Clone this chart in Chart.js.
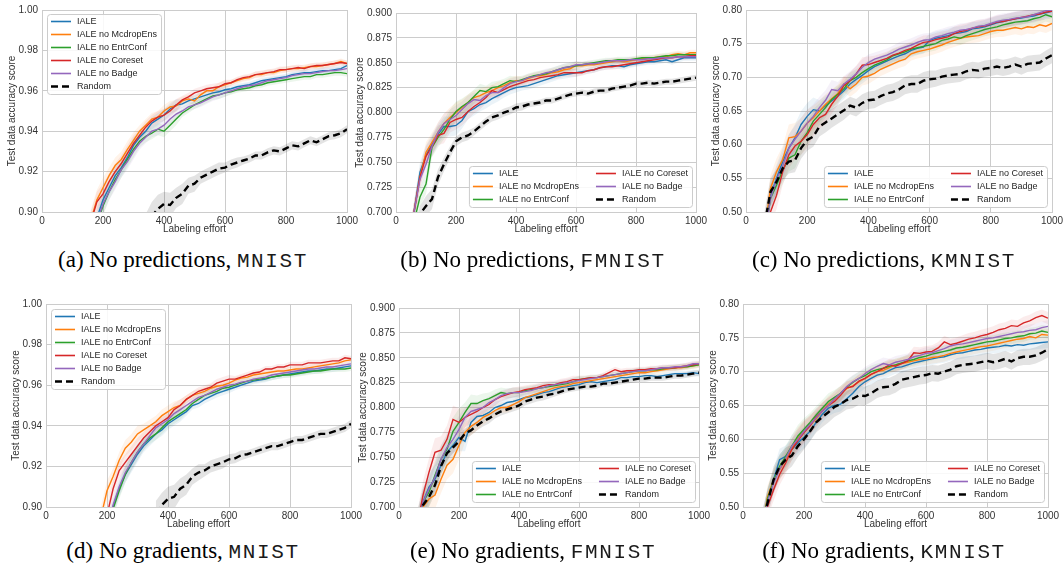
<!DOCTYPE html>
<html>
<head>
<meta charset="utf-8">
<script src="https://cdn.jsdelivr.net/npm/chart.js@4.4.1/dist/chart.umd.min.js"></script>
<style>
html, body { margin: 0; padding: 0; background: #fff; }
body { width: 1063px; height: 568px; position: relative; overflow: hidden; }
.panel { position: absolute; }
.caption {
    position: absolute; white-space: nowrap; transform: translateX(-50%);
    font-family: 'Liberation Serif', 'Times New Roman', serif; font-size: 23px; line-height: 23px; color: #000;
}
.caption .ds { font-family: 'Liberation Mono', 'Courier New', monospace; font-size: 21px; letter-spacing: 1.6px; color: #1a1a1a; }
</style>
</head>
<body>
<div class="panel" id="pa"><canvas></canvas></div>
<div class="panel" id="pb"><canvas></canvas></div>
<div class="panel" id="pc"><canvas></canvas></div>
<div class="panel" id="pd"><canvas></canvas></div>
<div class="panel" id="pe"><canvas></canvas></div>
<div class="panel" id="pf"><canvas></canvas></div>

<div class="caption" style="left:183px;top:248px">(a) No predictions, <span class="ds">MNIST</span></div>
<div class="caption" style="left:533px;top:248px">(b) No predictions, <span class="ds">FMNIST</span></div>
<div class="caption" style="left:884px;top:248px">(c) No predictions, <span class="ds">KMNIST</span></div>
<div class="caption" style="left:183px;top:539px">(d) No gradients, <span class="ds">MNIST</span></div>
<div class="caption" style="left:533px;top:539px">(e) No gradients, <span class="ds">FMNIST</span></div>
<div class="caption" style="left:884px;top:539px">(f) No gradients, <span class="ds">KMNIST</span></div>

<script>
// Ablation curves: test accuracy vs labeling effort
const effort = [20, 40, 60, 80, 100, 120, 140, 160, 180, 200,
    220, 240, 260, 280, 300, 320, 340, 360, 380, 400,
    420, 440, 460, 480, 500, 520, 540, 560, 580, 600,
    620, 640, 660, 680, 700, 720, 740, 760, 780, 800,
    820, 840, 860, 880, 900, 920, 940, 960, 980, 1000];
const xTicks = [0, 200, 400, 600, 800, 1000];

// (a) No predictions, MNIST
const aYTicks = [0.90, 0.92, 0.94, 0.96, 0.98, 1.00];
const aIALE = [null, null, null, null, null, null, null, null, 0.897, 0.906,
    0.912, 0.918, 0.922, 0.927, 0.933, 0.937, 0.940, 0.944, 0.946, 0.948,
    0.951, 0.953, 0.9535, 0.955, 0.956, 0.957, 0.958, 0.959, 0.9595, 0.9605,
    0.961, 0.962, 0.9625, 0.963, 0.964, 0.965, 0.9655, 0.966, 0.9665, 0.967,
    0.968, 0.9685, 0.969, 0.969, 0.9695, 0.970, 0.970, 0.9705, 0.971, 0.9725];
const aNoMcdrop = [null, null, null, null, null, null, 0.880, 0.896, 0.906, 0.912,
    0.918, 0.923, 0.926, 0.931, 0.9355, 0.940, 0.943, 0.946, 0.947, 0.950,
    0.952, 0.9525, 0.955, 0.956, 0.955, 0.958, 0.960, 0.960, 0.962, 0.963,
    0.964, 0.965, 0.966, 0.9665, 0.968, 0.968, 0.969, 0.969, 0.970, 0.9705,
    0.971, 0.971, 0.9715, 0.972, 0.972, 0.9725, 0.973, 0.9735, 0.9745, 0.9735];
const aNoEntr = [null, null, null, null, null, null, null, null, 0.894, 0.903,
    0.910, 0.916, 0.921, 0.926, 0.931, 0.935, 0.9375, 0.939, 0.941, 0.940,
    0.943, 0.946, 0.949, 0.951, 0.953, 0.9545, 0.956, 0.9575, 0.958, 0.959,
    0.9595, 0.9605, 0.961, 0.9615, 0.9625, 0.963, 0.964, 0.9645, 0.965, 0.9655,
    0.966, 0.9665, 0.967, 0.967, 0.968, 0.968, 0.9685, 0.969, 0.969, 0.9685];
const aNoCoreset = [null, null, null, null, null, null, null, 0.895, 0.905, 0.909,
    0.915, 0.920, 0.924, 0.929, 0.934, 0.938, 0.942, 0.945, 0.947, 0.948,
    0.950, 0.953, 0.9555, 0.957, 0.959, 0.960, 0.961, 0.9615, 0.962, 0.9635,
    0.964, 0.9655, 0.9665, 0.967, 0.968, 0.9685, 0.969, 0.9695, 0.9705, 0.9705,
    0.971, 0.9715, 0.971, 0.972, 0.9725, 0.9725, 0.973, 0.9735, 0.974, 0.9735];
const aNoBadge = [null, null, null, null, null, null, null, null, 0.895, 0.904,
    0.910, 0.915, 0.921, 0.925, 0.930, 0.934, 0.937, 0.940, 0.941, 0.943,
    0.946, 0.9485, 0.950, 0.952, 0.953, 0.954, 0.9555, 0.957, 0.958, 0.959,
    0.960, 0.961, 0.962, 0.9625, 0.963, 0.964, 0.965, 0.9655, 0.966, 0.9665,
    0.9675, 0.968, 0.9685, 0.9685, 0.969, 0.9695, 0.970, 0.970, 0.9705, 0.971];
const aRandom = [null, null, null, null, null, null, null, null, null, null,
    null, null, null, null, null, null, 0.893, 0.898, 0.9015, 0.904,
    0.9035, 0.907, 0.909, 0.913, 0.914, 0.917, 0.9185, 0.920, 0.9215, 0.922,
    0.9235, 0.9245, 0.9255, 0.9265, 0.928, 0.928, 0.9295, 0.9305, 0.930, 0.9315,
    0.933, 0.9325, 0.934, 0.9355, 0.9345, 0.936, 0.9375, 0.938, 0.939, 0.941];
const aRandomSd = [null, null, null, null, null, null, null, null, null, null,
    null, null, null, null, null, null, 0.006, 0.007, 0.007, 0.006,
    0.006, 0.005, 0.005, 0.004, 0.004, 0.003, 0.003, 0.003, 0.003, 0.0025,
    0.0025, 0.0025, 0.002, 0.002, 0.002, 0.002, 0.002, 0.002, 0.002, 0.002,
    0.002, 0.002, 0.002, 0.002, 0.002, 0.002, 0.002, 0.002, 0.002, 0.002];
const aIaleSd = [0.005, 0.005, 0.005, 0.005, 0.005, 0.005, 0.005, 0.005, 0.005, 0.005,
    0.004, 0.004, 0.004, 0.004, 0.004, 0.003, 0.003, 0.003, 0.003, 0.003,
    0.003, 0.003, 0.002, 0.002, 0.002, 0.002, 0.002, 0.002, 0.002, 0.002,
    0.0015, 0.0015, 0.0015, 0.0015, 0.0015, 0.0015, 0.0015, 0.0015, 0.0015, 0.0015,
    0.0015, 0.0015, 0.0015, 0.0015, 0.0015, 0.0015, 0.0015, 0.0015, 0.0015, 0.0015];

// (b) No predictions, FMNIST
const bYTicks = [0.700, 0.725, 0.750, 0.775, 0.800, 0.825, 0.850, 0.875, 0.900];
const bIALE = [null, 0.66, 0.700, 0.740, 0.757, 0.768, 0.778, 0.786, 0.786, 0.787,
    0.792, 0.801, 0.804, 0.808, 0.810, 0.814, 0.817, 0.820, 0.823, 0.825,
    0.826, 0.827, 0.829, 0.831, 0.833, 0.835, 0.837, 0.838, 0.839, 0.840,
    0.841, 0.842, 0.843, 0.845, 0.846, 0.847, 0.847, 0.846, 0.848, 0.849,
    0.850, 0.851, 0.851, 0.852, 0.853, 0.851, 0.853, 0.855, 0.855, 0.855];
const bNoMcdrop = [null, 0.66, 0.700, 0.735, 0.760, 0.770, 0.780, 0.789, 0.795, 0.800,
    0.805, 0.810, 0.815, 0.817, 0.820, 0.822, 0.825, 0.827, 0.830, 0.832,
    0.832, 0.834, 0.836, 0.837, 0.838, 0.840, 0.841, 0.843, 0.844, 0.847,
    0.847, 0.848, 0.848, 0.849, 0.850, 0.851, 0.852, 0.851, 0.852, 0.853,
    0.854, 0.854, 0.855, 0.856, 0.856, 0.858, 0.859, 0.858, 0.860, 0.860];
const bNoEntr = [null, 0.65, 0.690, 0.715, 0.728, 0.765, 0.775, 0.783, 0.793, 0.801,
    0.806, 0.810, 0.816, 0.822, 0.821, 0.825, 0.826, 0.829, 0.832, 0.831,
    0.833, 0.835, 0.837, 0.838, 0.839, 0.841, 0.843, 0.845, 0.846, 0.847,
    0.848, 0.849, 0.850, 0.851, 0.852, 0.852, 0.853, 0.853, 0.853, 0.854,
    0.855, 0.855, 0.855, 0.856, 0.857, 0.857, 0.858, 0.858, 0.858, 0.858];
const bNoCoreset = [null, 0.66, 0.700, 0.735, 0.756, 0.766, 0.777, 0.779, 0.790, 0.793,
    0.795, 0.801, 0.806, 0.810, 0.815, 0.822, 0.820, 0.823, 0.826, 0.828,
    0.830, 0.832, 0.833, 0.835, 0.836, 0.837, 0.838, 0.840, 0.840, 0.840,
    0.840, 0.842, 0.843, 0.845, 0.846, 0.846, 0.847, 0.848, 0.849, 0.850,
    0.851, 0.852, 0.853, 0.854, 0.855, 0.855, 0.856, 0.856, 0.857, 0.857];
const bNoBadge = [null, 0.66, 0.700, 0.733, 0.748, 0.766, 0.780, 0.789, 0.793, 0.797,
    0.803, 0.809, 0.813, 0.812, 0.817, 0.820, 0.820, 0.825, 0.829, 0.831,
    0.832, 0.835, 0.836, 0.838, 0.840, 0.841, 0.843, 0.845, 0.846, 0.848,
    0.848, 0.849, 0.849, 0.850, 0.851, 0.852, 0.852, 0.852, 0.853, 0.853,
    0.853, 0.854, 0.854, 0.855, 0.855, 0.855, 0.856, 0.856, 0.856, 0.856];
const bRandom = [null, null, 0.67, 0.698, 0.706, 0.713, 0.735, 0.748, 0.760, 0.771,
    0.775, 0.777, 0.781, 0.786, 0.791, 0.795, 0.797, 0.800, 0.802, 0.805,
    0.806, 0.808, 0.809, 0.810, 0.812, 0.812, 0.814, 0.816, 0.818, 0.819,
    0.820, 0.819, 0.821, 0.822, 0.822, 0.824, 0.825, 0.826, 0.827, 0.829,
    0.829, 0.830, 0.829, 0.830, 0.831, 0.831, 0.832, 0.833, 0.834, 0.835];
const bRandomSd = [null, null, 0.008, 0.008, 0.010, 0.010, 0.008, 0.007, 0.006, 0.005,
    0.005, 0.005, 0.004, 0.004, 0.004, 0.004, 0.004, 0.004, 0.004, 0.004,
    0.004, 0.003, 0.003, 0.003, 0.003, 0.003, 0.003, 0.003, 0.003, 0.003,
    0.003, 0.003, 0.003, 0.003, 0.003, 0.003, 0.003, 0.003, 0.003, 0.003,
    0.003, 0.003, 0.003, 0.003, 0.003, 0.003, 0.003, 0.003, 0.003, 0.003];
const bIaleSd = [0.010, 0.010, 0.010, 0.010, 0.010, 0.010, 0.010, 0.010, 0.010, 0.010,
    0.008, 0.008, 0.007, 0.007, 0.006, 0.006, 0.006, 0.005, 0.005, 0.005,
    0.004, 0.004, 0.004, 0.004, 0.004, 0.004, 0.004, 0.004, 0.004, 0.004,
    0.003, 0.003, 0.003, 0.003, 0.003, 0.003, 0.003, 0.003, 0.003, 0.003,
    0.003, 0.003, 0.003, 0.003, 0.003, 0.003, 0.003, 0.003, 0.003, 0.003];

// (c) No predictions, KMNIST
const cYTicks = [0.50, 0.55, 0.60, 0.65, 0.70, 0.75, 0.80];
const cIALE = [null, null, 0.47, 0.525, 0.550, 0.575, 0.595, 0.610, 0.630, 0.642,
    0.652, 0.650, 0.658, 0.665, 0.672, 0.680, 0.690, 0.697, 0.703, 0.710,
    0.716, 0.720, 0.724, 0.728, 0.732, 0.735, 0.740, 0.743, 0.745, 0.755,
    0.758, 0.760, 0.762, 0.765, 0.766, 0.768, 0.772, 0.773, 0.775, 0.778,
    0.781, 0.783, 0.785, 0.787, 0.788, 0.790, 0.791, 0.794, 0.796, 0.798];
const cNoMcdrop = [null, null, 0.47, 0.535, 0.560, 0.578, 0.610, 0.612, 0.620, 0.632,
    0.640, 0.650, 0.660, 0.668, 0.676, 0.690, 0.683, 0.690, 0.700, 0.702,
    0.706, 0.712, 0.716, 0.720, 0.724, 0.727, 0.735, 0.738, 0.740, 0.742,
    0.745, 0.748, 0.752, 0.755, 0.758, 0.760, 0.761, 0.762, 0.765, 0.768,
    0.770, 0.770, 0.772, 0.774, 0.772, 0.775, 0.774, 0.778, 0.776, 0.780];
const cNoEntr = [null, null, 0.46, 0.520, 0.540, 0.562, 0.580, 0.585, 0.605, 0.618,
    0.635, 0.645, 0.655, 0.667, 0.675, 0.683, 0.695, 0.700, 0.707, 0.713,
    0.718, 0.722, 0.726, 0.732, 0.735, 0.738, 0.742, 0.744, 0.746, 0.748,
    0.750, 0.755, 0.757, 0.760, 0.758, 0.762, 0.765, 0.768, 0.771, 0.773,
    0.775, 0.778, 0.780, 0.782, 0.783, 0.784, 0.787, 0.789, 0.793, 0.790];
const cNoCoreset = [null, null, 0.45, 0.500, 0.525, 0.560, 0.585, 0.598, 0.605, 0.615,
    0.630, 0.640, 0.645, 0.660, 0.672, 0.688, 0.695, 0.705, 0.718, 0.719,
    0.722, 0.725, 0.728, 0.733, 0.736, 0.740, 0.743, 0.748, 0.752, 0.753,
    0.756, 0.758, 0.760, 0.765, 0.768, 0.770, 0.773, 0.775, 0.776, 0.779,
    0.782, 0.783, 0.785, 0.787, 0.789, 0.791, 0.793, 0.794, 0.797, 0.798];
const cNoBadge = [null, null, 0.46, 0.520, 0.548, 0.568, 0.595, 0.608, 0.620, 0.632,
    0.642, 0.655, 0.666, 0.682, 0.680, 0.690, 0.697, 0.705, 0.715, 0.722,
    0.727, 0.730, 0.733, 0.737, 0.742, 0.745, 0.748, 0.752, 0.755, 0.756,
    0.760, 0.762, 0.765, 0.767, 0.770, 0.771, 0.773, 0.776, 0.777, 0.780,
    0.783, 0.785, 0.786, 0.788, 0.789, 0.790, 0.793, 0.796, 0.799, 0.800];
const cRandom = [null, null, 0.48, 0.530, 0.545, 0.565, 0.575, 0.577, 0.595, 0.607,
    0.612, 0.627, 0.633, 0.639, 0.645, 0.651, 0.658, 0.655, 0.662, 0.666,
    0.667, 0.672, 0.676, 0.678, 0.682, 0.688, 0.690, 0.690, 0.695, 0.697,
    0.698, 0.701, 0.703, 0.704, 0.705, 0.709, 0.711, 0.710, 0.713, 0.714,
    0.716, 0.714, 0.716, 0.719, 0.716, 0.720, 0.721, 0.722, 0.728, 0.733];
const cRandomSd = [null, null, 0.020, 0.020, 0.018, 0.018, 0.018, 0.018, 0.016, 0.016,
    0.015, 0.015, 0.015, 0.014, 0.014, 0.014, 0.013, 0.013, 0.013, 0.013,
    0.013, 0.013, 0.013, 0.013, 0.013, 0.013, 0.013, 0.013, 0.013, 0.013,
    0.012, 0.012, 0.012, 0.012, 0.012, 0.012, 0.012, 0.012, 0.012, 0.012,
    0.012, 0.012, 0.012, 0.012, 0.012, 0.012, 0.012, 0.012, 0.012, 0.012];
const cIaleSd = [0.020, 0.020, 0.020, 0.020, 0.020, 0.020, 0.020, 0.020, 0.020, 0.020,
    0.018, 0.016, 0.015, 0.014, 0.013, 0.012, 0.012, 0.012, 0.012, 0.012,
    0.010, 0.010, 0.010, 0.010, 0.010, 0.010, 0.010, 0.010, 0.010, 0.010,
    0.010, 0.010, 0.010, 0.010, 0.010, 0.010, 0.010, 0.010, 0.010, 0.010,
    0.010, 0.010, 0.010, 0.010, 0.010, 0.010, 0.010, 0.010, 0.010, 0.010];

// (d) No gradients, MNIST
const dYTicks = [0.90, 0.92, 0.94, 0.96, 0.98, 1.00];
const dIALE = [null, null, null, null, null, null, null, null, null, 0.888,
    0.900, 0.909, 0.916, 0.921, 0.926, 0.930, 0.933, 0.936, 0.938, 0.941,
    0.943, 0.945, 0.947, 0.950, 0.951, 0.953, 0.9545, 0.956, 0.957, 0.958,
    0.959, 0.960, 0.961, 0.962, 0.9625, 0.963, 0.964, 0.9645, 0.965, 0.9655,
    0.966, 0.9665, 0.967, 0.967, 0.9675, 0.968, 0.968, 0.9685, 0.969, 0.9695];
const dNoMcdrop = [null, null, null, null, null, null, null, null, 0.895, 0.908,
    0.915, 0.923, 0.929, 0.932, 0.936, 0.938, 0.940, 0.942, 0.945, 0.947,
    0.949, 0.950, 0.953, 0.955, 0.956, 0.957, 0.9585, 0.9595, 0.960, 0.961,
    0.9625, 0.9635, 0.964, 0.965, 0.9655, 0.966, 0.9665, 0.967, 0.967, 0.9675,
    0.968, 0.968, 0.9685, 0.969, 0.9695, 0.970, 0.9705, 0.971, 0.972, 0.9725];
const dNoEntr = [null, null, null, null, null, null, null, null, null, 0.887,
    0.899, 0.908, 0.916, 0.922, 0.927, 0.931, 0.934, 0.936, 0.939, 0.942,
    0.944, 0.946, 0.948, 0.951, 0.953, 0.955, 0.956, 0.957, 0.9585, 0.959,
    0.960, 0.961, 0.962, 0.9625, 0.963, 0.9635, 0.964, 0.9645, 0.965, 0.965,
    0.9655, 0.966, 0.9665, 0.967, 0.967, 0.9675, 0.968, 0.968, 0.968, 0.9685];
const dNoCoreset = [null, null, null, null, null, null, null, null, null, 0.896,
    0.909, 0.918, 0.922, 0.926, 0.930, 0.934, 0.937, 0.940, 0.942, 0.944,
    0.948, 0.950, 0.953, 0.955, 0.957, 0.958, 0.959, 0.961, 0.962, 0.963,
    0.963, 0.964, 0.965, 0.966, 0.9665, 0.968, 0.968, 0.969, 0.969, 0.970,
    0.970, 0.970, 0.971, 0.971, 0.971, 0.9715, 0.972, 0.972, 0.9735, 0.973];
const dNoBadge = [null, null, null, null, null, null, null, null, null, 0.889,
    0.901, 0.910, 0.917, 0.922, 0.927, 0.931, 0.935, 0.939, 0.941, 0.943,
    0.946, 0.948, 0.950, 0.952, 0.954, 0.955, 0.9565, 0.958, 0.959, 0.960,
    0.9605, 0.9615, 0.962, 0.963, 0.9635, 0.964, 0.965, 0.9655, 0.966, 0.9665,
    0.967, 0.9675, 0.968, 0.968, 0.9685, 0.969, 0.969, 0.9695, 0.970, 0.9705];
const dRandom = [null, null, null, null, null, null, null, null, null, null,
    null, null, null, null, null, null, null, 0.897, 0.901, 0.904,
    0.905, 0.909, 0.911, 0.915, 0.917, 0.918, 0.920, 0.921, 0.922, 0.9235,
    0.924, 0.9255, 0.926, 0.927, 0.928, 0.929, 0.930, 0.930, 0.931, 0.932,
    0.933, 0.933, 0.934, 0.935, 0.936, 0.936, 0.937, 0.938, 0.939, 0.941];
const dRandomSd = [null, null, null, null, null, null, null, null, null, null,
    null, null, null, null, null, null, null, 0.006, 0.006, 0.006,
    0.006, 0.005, 0.005, 0.004, 0.004, 0.003, 0.003, 0.003, 0.003, 0.0025,
    0.0025, 0.0025, 0.002, 0.002, 0.002, 0.002, 0.002, 0.002, 0.002, 0.002,
    0.002, 0.002, 0.002, 0.002, 0.002, 0.002, 0.002, 0.002, 0.002, 0.002];
const dIaleSd = [0.005, 0.005, 0.005, 0.005, 0.005, 0.005, 0.005, 0.005, 0.005, 0.005,
    0.004, 0.004, 0.004, 0.004, 0.004, 0.003, 0.003, 0.003, 0.003, 0.003,
    0.003, 0.003, 0.002, 0.002, 0.002, 0.002, 0.002, 0.002, 0.002, 0.002,
    0.0015, 0.0015, 0.0015, 0.0015, 0.0015, 0.0015, 0.0015, 0.0015, 0.0015, 0.0015,
    0.0015, 0.0015, 0.0015, 0.0015, 0.0015, 0.0015, 0.0015, 0.0015, 0.0015, 0.0015];

// (e) No gradients, FMNIST
const eYTicks = [0.700, 0.725, 0.750, 0.775, 0.800, 0.825, 0.850, 0.875, 0.900];
const eIALE = [null, null, 0.68, 0.705, 0.720, 0.728, 0.742, 0.755, 0.762, 0.770,
    0.766, 0.785, 0.791, 0.792, 0.795, 0.800, 0.802, 0.805, 0.806, 0.808,
    0.810, 0.811, 0.813, 0.815, 0.816, 0.818, 0.820, 0.821, 0.822, 0.823,
    0.825, 0.826, 0.825, 0.826, 0.827, 0.828, 0.830, 0.830, 0.831, 0.831,
    0.832, 0.832, 0.831, 0.832, 0.833, 0.834, 0.834, 0.834, 0.835, 0.834];
const eNoMcdrop = [null, null, 0.68, 0.700, 0.708, 0.712, 0.728, 0.742, 0.748, 0.762,
    0.775, 0.781, 0.785, 0.790, 0.793, 0.797, 0.800, 0.800, 0.803, 0.806,
    0.810, 0.812, 0.814, 0.816, 0.818, 0.820, 0.821, 0.822, 0.824, 0.825,
    0.826, 0.827, 0.828, 0.829, 0.830, 0.831, 0.832, 0.833, 0.834, 0.835,
    0.835, 0.836, 0.837, 0.838, 0.839, 0.840, 0.840, 0.841, 0.842, 0.843];
const eNoEntr = [null, null, 0.68, 0.705, 0.715, 0.732, 0.748, 0.758, 0.776, 0.785,
    0.795, 0.804, 0.804, 0.807, 0.809, 0.812, 0.815, 0.814, 0.815, 0.815,
    0.817, 0.818, 0.819, 0.820, 0.821, 0.822, 0.823, 0.824, 0.826, 0.828,
    0.829, 0.830, 0.830, 0.831, 0.832, 0.833, 0.834, 0.835, 0.836, 0.837,
    0.837, 0.838, 0.838, 0.839, 0.840, 0.840, 0.841, 0.841, 0.842, 0.843];
const eNoCoreset = [null, null, 0.68, 0.712, 0.735, 0.755, 0.757, 0.768, 0.788, 0.785,
    0.790, 0.793, 0.796, 0.800, 0.803, 0.808, 0.811, 0.813, 0.815, 0.816,
    0.818, 0.819, 0.820, 0.822, 0.823, 0.823, 0.825, 0.826, 0.828, 0.828,
    0.829, 0.830, 0.830, 0.832, 0.835, 0.838, 0.836, 0.837, 0.837, 0.838,
    0.838, 0.839, 0.839, 0.840, 0.840, 0.840, 0.841, 0.842, 0.843, 0.844];
const eNoBadge = [null, null, 0.68, 0.705, 0.718, 0.730, 0.748, 0.760, 0.768, 0.778,
    0.790, 0.796, 0.798, 0.800, 0.805, 0.808, 0.812, 0.814, 0.815, 0.815,
    0.816, 0.817, 0.819, 0.820, 0.822, 0.823, 0.824, 0.825, 0.826, 0.827,
    0.828, 0.829, 0.830, 0.831, 0.832, 0.833, 0.834, 0.835, 0.836, 0.837,
    0.837, 0.838, 0.839, 0.840, 0.840, 0.841, 0.841, 0.842, 0.844, 0.844];
const eRandom = [null, null, 0.68, 0.702, 0.710, 0.722, 0.741, 0.754, 0.760, 0.766,
    0.774, 0.777, 0.782, 0.786, 0.789, 0.793, 0.796, 0.798, 0.800, 0.802,
    0.806, 0.808, 0.810, 0.811, 0.813, 0.814, 0.816, 0.818, 0.819, 0.820,
    0.821, 0.821, 0.822, 0.824, 0.824, 0.825, 0.826, 0.827, 0.828, 0.829,
    0.829, 0.830, 0.830, 0.830, 0.831, 0.832, 0.832, 0.833, 0.834, 0.835];
const eRandomSd = [null, null, 0.010, 0.010, 0.010, 0.009, 0.008, 0.007, 0.006, 0.006,
    0.005, 0.005, 0.005, 0.005, 0.005, 0.004, 0.004, 0.004, 0.004, 0.004,
    0.004, 0.004, 0.004, 0.004, 0.004, 0.003, 0.003, 0.003, 0.003, 0.003,
    0.003, 0.003, 0.003, 0.003, 0.003, 0.003, 0.003, 0.003, 0.003, 0.003,
    0.003, 0.003, 0.003, 0.003, 0.003, 0.003, 0.003, 0.003, 0.003, 0.003];
const eIaleSd = [0.014, 0.014, 0.014, 0.014, 0.014, 0.014, 0.014, 0.014, 0.014, 0.014,
    0.010, 0.009, 0.008, 0.007, 0.006, 0.006, 0.005, 0.005, 0.005, 0.005,
    0.004, 0.004, 0.004, 0.004, 0.004, 0.004, 0.004, 0.004, 0.004, 0.004,
    0.003, 0.003, 0.003, 0.003, 0.003, 0.003, 0.003, 0.003, 0.003, 0.003,
    0.003, 0.003, 0.003, 0.003, 0.003, 0.003, 0.003, 0.003, 0.003, 0.003];

// (f) No gradients, KMNIST
const fYTicks = [0.50, 0.55, 0.60, 0.65, 0.70, 0.75, 0.80];
const fIALE = [null, null, 0.47, 0.510, 0.540, 0.570, 0.575, 0.585, 0.595, 0.603,
    0.612, 0.625, 0.637, 0.646, 0.650, 0.652, 0.660, 0.668, 0.678, 0.685,
    0.690, 0.695, 0.697, 0.702, 0.706, 0.707, 0.710, 0.713, 0.715, 0.717,
    0.719, 0.721, 0.722, 0.725, 0.727, 0.728, 0.730, 0.732, 0.733, 0.735,
    0.736, 0.737, 0.739, 0.738, 0.740, 0.739, 0.741, 0.742, 0.743, 0.744];
const fNoMcdrop = [null, null, 0.46, 0.515, 0.540, 0.555, 0.570, 0.585, 0.602, 0.612,
    0.622, 0.630, 0.642, 0.652, 0.660, 0.668, 0.675, 0.679, 0.685, 0.690,
    0.696, 0.700, 0.702, 0.706, 0.710, 0.712, 0.714, 0.716, 0.718, 0.719,
    0.721, 0.722, 0.724, 0.727, 0.729, 0.731, 0.733, 0.735, 0.737, 0.738,
    0.740, 0.742, 0.744, 0.746, 0.748, 0.749, 0.752, 0.750, 0.755, 0.754];
const fNoEntr = [null, null, 0.46, 0.512, 0.538, 0.560, 0.575, 0.590, 0.605, 0.615,
    0.625, 0.636, 0.646, 0.656, 0.662, 0.668, 0.677, 0.684, 0.690, 0.694,
    0.700, 0.703, 0.705, 0.708, 0.710, 0.713, 0.716, 0.718, 0.721, 0.723,
    0.726, 0.728, 0.730, 0.732, 0.735, 0.736, 0.738, 0.740, 0.742, 0.744,
    0.745, 0.747, 0.749, 0.750, 0.752, 0.753, 0.756, 0.757, 0.760, 0.758];
const fNoCoreset = [null, null, 0.45, 0.500, 0.525, 0.548, 0.565, 0.585, 0.598, 0.610,
    0.620, 0.633, 0.642, 0.650, 0.656, 0.665, 0.676, 0.678, 0.686, 0.690,
    0.696, 0.700, 0.705, 0.710, 0.708, 0.712, 0.716, 0.728, 0.727, 0.729,
    0.730, 0.735, 0.744, 0.740, 0.742, 0.745, 0.748, 0.750, 0.753, 0.755,
    0.758, 0.762, 0.764, 0.768, 0.767, 0.772, 0.775, 0.780, 0.783, 0.779];
const fNoBadge = [null, null, 0.46, 0.508, 0.535, 0.556, 0.572, 0.590, 0.600, 0.612,
    0.622, 0.632, 0.642, 0.650, 0.660, 0.668, 0.678, 0.685, 0.690, 0.697,
    0.703, 0.708, 0.712, 0.710, 0.714, 0.716, 0.718, 0.722, 0.724, 0.727,
    0.728, 0.731, 0.734, 0.738, 0.740, 0.741, 0.743, 0.745, 0.747, 0.749,
    0.750, 0.752, 0.754, 0.756, 0.758, 0.759, 0.761, 0.762, 0.765, 0.767];
const fRandom = [null, null, 0.47, 0.505, 0.540, 0.560, 0.570, 0.576, 0.590, 0.600,
    0.612, 0.625, 0.633, 0.640, 0.648, 0.652, 0.658, 0.660, 0.665, 0.664,
    0.668, 0.674, 0.677, 0.678, 0.682, 0.688, 0.690, 0.692, 0.694, 0.695,
    0.698, 0.697, 0.700, 0.703, 0.708, 0.710, 0.711, 0.712, 0.714, 0.716,
    0.714, 0.716, 0.719, 0.715, 0.720, 0.722, 0.722, 0.724, 0.728, 0.733];
const fRandomSd = [null, null, 0.020, 0.020, 0.020, 0.018, 0.018, 0.016, 0.016, 0.015,
    0.015, 0.015, 0.015, 0.015, 0.015, 0.014, 0.014, 0.014, 0.014, 0.014,
    0.013, 0.013, 0.013, 0.013, 0.013, 0.013, 0.013, 0.013, 0.013, 0.013,
    0.012, 0.012, 0.012, 0.012, 0.012, 0.012, 0.012, 0.012, 0.012, 0.012,
    0.012, 0.012, 0.012, 0.012, 0.012, 0.012, 0.012, 0.012, 0.012, 0.012];
const fIaleSd = [0.016, 0.016, 0.016, 0.016, 0.016, 0.016, 0.016, 0.016, 0.016, 0.016,
    0.014, 0.013, 0.012, 0.012, 0.011, 0.011, 0.010, 0.010, 0.010, 0.010,
    0.009, 0.009, 0.009, 0.009, 0.009, 0.009, 0.009, 0.009, 0.009, 0.009,
    0.009, 0.009, 0.009, 0.009, 0.009, 0.009, 0.009, 0.009, 0.009, 0.009,
    0.009, 0.009, 0.009, 0.009, 0.009, 0.009, 0.009, 0.009, 0.009, 0.009];

const SERIES_NAMES = ['IALE', 'IALE no McdropEns', 'IALE no EntrConf', 'IALE no Coreset', 'IALE no Badge', 'Random'];
const SERIES_COLORS = ['#1f77b4', '#ff7f0e', '#2ca02c', '#d62728', '#9467bd', '#000000'];
const BAND_COLORS = ['rgba(31,119,180,0.09)', 'rgba(255,127,14,0.09)', 'rgba(44,160,44,0.09)',
    'rgba(214,39,40,0.09)', 'rgba(148,103,189,0.09)', 'rgba(0,0,0,0.11)'];

// panel geometry (plot box in page pixels) + legend placement
const PANELS = [
    { el: 'pa', L: 42, R: 347, T: 10, B: 212, yw: 40, dec: 2, yTicks: aYTicks,
      series: [aIALE, aNoMcdrop, aNoEntr, aNoCoreset, aNoBadge, aRandom], sd: aRandomSd, iale: aIaleSd,
      legend: { corner: 'tl', cols: 1, dx: 5, dy: 4 } },
    { el: 'pb', L: 396, R: 696, T: 13, B: 212, yw: 46, dec: 3, yTicks: bYTicks,
      series: [bIALE, bNoMcdrop, bNoEntr, bNoCoreset, bNoBadge, bRandom], sd: bRandomSd, iale: bIaleSd,
      legend: { corner: 'br', cols: 2, dx: 4, dy: 5 } },
    { el: 'pc', L: 746, R: 1052, T: 10, B: 212, yw: 40, dec: 2, yTicks: cYTicks,
      series: [cIALE, cNoMcdrop, cNoEntr, cNoCoreset, cNoBadge, cRandom], sd: cRandomSd, iale: cIaleSd,
      legend: { corner: 'br', cols: 2, dx: 5, dy: 5 } },
    { el: 'pd', L: 46, R: 351, T: 304, B: 507, yw: 40, dec: 2, yTicks: dYTicks,
      series: [dIALE, dNoMcdrop, dNoEntr, dNoCoreset, dNoBadge, dRandom], sd: dRandomSd, iale: dIaleSd,
      legend: { corner: 'tl', cols: 1, dx: 5, dy: 5 } },
    { el: 'pe', L: 399, R: 699, T: 308, B: 507, yw: 46, dec: 3, yTicks: eYTicks,
      series: [eIALE, eNoMcdrop, eNoEntr, eNoCoreset, eNoBadge, eRandom], sd: eRandomSd, iale: eIaleSd,
      legend: { corner: 'br', cols: 2, dx: 4, dy: 5 } },
    { el: 'pf', L: 743, R: 1048, T: 304, B: 507, yw: 40, dec: 2, yTicks: fYTicks,
      series: [fIALE, fNoMcdrop, fNoEntr, fNoCoreset, fNoBadge, fRandom], sd: fRandomSd, iale: fIaleSd,
      legend: { corner: 'br', cols: 2, dx: 4, dy: 5 } }
];

const PAD_TOP = 6, PAD_RIGHT = 16, X_AXIS_H = 26;
const FONT = '"Liberation Sans", Arial, Helvetica, sans-serif';
Chart.defaults.font.family = FONT;
Chart.defaults.font.size = 10;
Chart.defaults.color = '#333333';

// legend drawn inside the plot area, matplotlib style
const insideLegend = {
    id: 'insideLegend',
    afterDatasetsDraw(chart, args, opts) {
        if (!opts || !opts.corner) return;
        const ctx = chart.ctx;
        const area = chart.chartArea;
        const items = chart.data.datasets.filter(d => d.label);
        const cols = opts.cols;
        const rows = Math.ceil(items.length / cols);
        const rowH = 13, padL = 4, padR = 4, colGap = 17, textOff = 26;
        ctx.save();
        ctx.font = '9px ' + FONT;
        const colW = [];
        for (let c = 0; c < cols; c++) {
            let w = 0;
            for (let r = 0; r < rows; r++) {
                const it = items[c * rows + r];
                if (it) w = Math.max(w, ctx.measureText(it.label).width);
            }
            colW.push(textOff + w);
        }
        const boxW = padL + colW.reduce((s, w) => s + w, 0) + colGap * (cols - 1) + padR;
        const boxH = rows * rowH + 2;
        let left, top;
        if (opts.corner === 'tl') {
            left = area.left + opts.dx;
            top = area.top + opts.dy;
        } else {
            left = area.right - opts.dx - boxW;
            top = area.bottom - opts.dy - boxH;
        }
        ctx.beginPath();
        ctx.roundRect(left + 0.5, top + 0.5, boxW, boxH, 3);
        ctx.fillStyle = 'rgba(255,255,255,0.85)';
        ctx.fill();
        ctx.strokeStyle = '#cccccc';
        ctx.lineWidth = 1;
        ctx.stroke();
        let x0 = left + padL;
        for (let c = 0; c < cols; c++) {
            for (let r = 0; r < rows; r++) {
                const it = items[c * rows + r];
                if (!it) continue;
                const y = top + 7.5 + r * rowH;
                ctx.beginPath();
                ctx.setLineDash(it.borderDash || []);
                ctx.strokeStyle = it.borderColor;
                ctx.lineWidth = it.borderWidth + 0.2;
                ctx.moveTo(x0, y);
                ctx.lineTo(x0 + 20, y);
                ctx.stroke();
                ctx.setLineDash([]);
                ctx.fillStyle = '#262626';
                ctx.textBaseline = 'middle';
                ctx.textAlign = 'left';
                ctx.fillText(it.label, x0 + textOff, y + 0.5);
            }
            x0 += colW[c] + colGap;
        }
        ctx.restore();
    }
};

function band(vals, spread, sign) {
    return effort.map((x, i) => ({ x: x, y: (vals[i] == null || spread[i] == null) ? null : vals[i] + sign * spread[i] }));
}

function buildDatasets(p) {
    const datasets = p.series.map((vals, k) => ({
        label: SERIES_NAMES[k],
        data: effort.map((x, i) => ({ x: x, y: vals[i] })),
        borderColor: SERIES_COLORS[k],
        backgroundColor: SERIES_COLORS[k],
        borderWidth: k === 5 ? 2.4 : 1.4,
        borderDash: k === 5 ? [7, 4] : [],
        pointRadius: 0,
        fill: false,
        order: 5 - k
    }));
    // shaded spread bands: one pair per series, behind every line
    p.series.forEach((vals, k) => {
        const spread = k === 5 ? p.sd : p.iale;
        const lowIndex = datasets.length;
        datasets.push({ data: band(vals, spread, -1), borderWidth: 0, pointRadius: 0, fill: false, order: 20 + k });
        datasets.push({ data: band(vals, spread, 1), borderWidth: 0, pointRadius: 0, fill: lowIndex,
            backgroundColor: BAND_COLORS[k], order: 20 + k });
    });
    return datasets;
}

PANELS.forEach(p => {
    const box = document.getElementById(p.el);
    const left = p.L - p.yw;
    box.style.left = left + 'px';
    box.style.top = (p.T - PAD_TOP) + 'px';
    box.style.width = (p.R - left + PAD_RIGHT) + 'px';
    box.style.height = (p.B - p.T + PAD_TOP + X_AXIS_H) + 'px';
    const yMin = p.yTicks[0], yMax = p.yTicks[p.yTicks.length - 1];

    new Chart(box.querySelector('canvas'), {
        type: 'line',
        data: { datasets: buildDatasets(p) },
        options: {
            responsive: true,
            maintainAspectRatio: false,
            animation: false,
            layout: { padding: { top: PAD_TOP, right: PAD_RIGHT, left: 0, bottom: 0 } },
            plugins: {
                legend: { display: false },
                tooltip: { enabled: false },
                insideLegend: p.legend
            },
            scales: {
                x: {
                    type: 'linear', min: 0, max: 1000,
                    afterBuildTicks: s => { s.ticks = xTicks.map(v => ({ value: v })); },
                    afterFit: s => { s.height = X_AXIS_H; s.paddingLeft = 0; s.paddingRight = 0; },
                    grid: { color: '#cccccc', drawTicks: false },
                    border: { color: '#cccccc' },
                    ticks: { padding: 3, maxRotation: 0, callback: v => String(v) },
                    title: { display: true, text: 'Labeling effort', padding: { top: 0, bottom: 3 } }
                },
                y: {
                    min: yMin, max: yMax,
                    afterBuildTicks: s => { s.ticks = p.yTicks.map(v => ({ value: v })); },
                    afterFit: s => { s.width = p.yw; s.paddingTop = 0; s.paddingBottom = 0; },
                    grid: { color: '#cccccc', drawTicks: false },
                    border: { color: '#cccccc' },
                    ticks: { padding: 4, callback: v => Number(v).toFixed(p.dec) },
                    title: { display: true, text: 'Test data accuracy score', padding: { top: 4, bottom: 2 } }
                }
            }
        },
        plugins: [insideLegend]
    });
});
</script>
</body>
</html>
